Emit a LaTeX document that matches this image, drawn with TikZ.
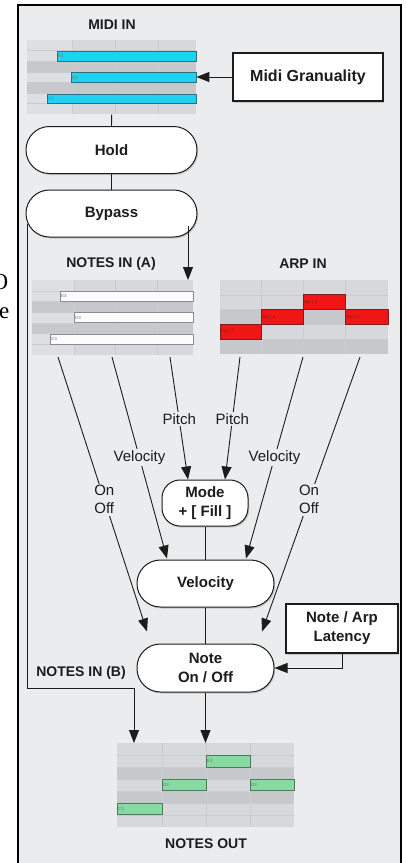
\documentclass[tikz,border=0pt]{standalone}
\usepackage{fontspec}
\setmainfont{Liberation Sans}
\newfontfamily\serifcut{Liberation Serif}
\usetikzlibrary{arrows.meta,shadows,calc}

\definecolor{panelbg}{HTML}{EBECEE}
\definecolor{rowlight}{HTML}{D6D8DC}
\definecolor{rowfirst}{HTML}{DEDFE2}
\definecolor{rowdark}{HTML}{C6C8CC}
\definecolor{gridline}{HTML}{C9CBCF}
\definecolor{midinote}{HTML}{1FD2F2}
\definecolor{midiedge}{HTML}{2F6F80}
\definecolor{notewhite}{HTML}{FCFCFC}
\definecolor{noteedge}{HTML}{8C8C8C}
\definecolor{arpred}{HTML}{F01616}
\definecolor{arpedge}{HTML}{7A1F1F}
\definecolor{outgreen}{HTML}{88DAA3}
\definecolor{outedge}{HTML}{4D7A5C}
\definecolor{ink}{HTML}{1C1C1C}

% grid of a piano roll:
% #1 x0, #2 x1, #3 y0, #4 row height, #5 rows, #6 dark rows, #7 inner column lines, #8 end of first column
\newcommand\rollgrid[8]{%
  \fill[rowlight] (#1,#3) rectangle (#2,{#3+#5*#4});
  \fill[rowfirst] (#1,#3) rectangle (#8,{#3+#5*#4});
  \foreach \r in {#6} \fill[rowdark] (#1,{#3+\r*#4}) rectangle (#2,{#3+(\r+1)*#4});
  \foreach \c in {#7} \draw[gridline, line width=0.6pt] (\c,#3) -- (\c,{#3+#5*#4});
  \pgfmathtruncatemacro\rolllast{#5-1}
  \foreach \r in {1,...,\rolllast} \draw[gridline, line width=0.3pt] (#1,{#3+\r*#4}) -- (#2,{#3+\r*#4});
}
% one note bar: #1 style, #2 x0, #3 x1, #4 y0, #5 y1, #6 name, #7 tag
\newcommand\rollnote[7]{%
  \filldraw[#1] (#2,#4) rectangle (#3,#5);
  \node[notetag] (#6) at ({#2+1},{(#4+#5)/2}) {#7};
}

\begin{document}
\begin{tikzpicture}[x=1pt, y=-1pt,
  head/.style={font=\bfseries\fontsize{14}{16}\selectfont, text=ink, inner sep=0pt},
  proc/.style={draw=ink, line width=1pt, fill=white, align=center, inner sep=0pt,
    font=\bfseries\fontsize{15}{19}\selectfont, text=ink,
    drop shadow={shadow xshift=1.2pt, shadow yshift=-1.5pt, opacity=0.35}},
  pill/.style={proc, rounded corners=23.4pt},
  setbox/.style={proc, line width=1.1pt},
  conn/.style={draw=ink, line width=0.9pt},
  arr/.style={conn, -{Triangle[length=13pt, width=10pt]}},
  elab/.style={fill=panelbg, inner sep=1.5pt, align=center, text=ink,
    font=\fontsize{15}{18}\selectfont},
  notetag/.style={anchor=west, inner sep=0pt, font=\fontsize{4.5}{5}\selectfont, text=black!55},
  midibar/.style={fill=midinote, draw=midiedge, line width=0.7pt},
  whitebar/.style={fill=notewhite, draw=noteedge, line width=0.7pt},
  arpbar/.style={fill=arpred, draw=arpedge, line width=0.7pt},
  outbar/.style={fill=outgreen, draw=outedge, line width=0.7pt},
  rollarea/.style={inner sep=0pt, anchor=north west}
]
\useasboundingbox (0,0) rectangle (406,863);
\clip (0,0) rectangle (406,863);
\fill[white] (0,0) rectangle (406,863);

% text running in from the left margin
\node[anchor=base east, inner sep=0pt, font=\serifcut\fontsize{23}{23}\selectfont] (cutA) at (8.5,289) {O};
\node[anchor=base east, inner sep=0pt, font=\serifcut\fontsize{23}{23}\selectfont] (cutB) at (9.5,318) {e};

% panel
\draw[line width=2.4pt, fill=panelbg] (18,5) rectangle (401,875);

% ---------- MIDI IN ----------
\node[head] (tMidi) at (112,25) {MIDI IN};
\node[rollarea, minimum width=169pt, minimum height=74.2pt] (midiroll) at (27,40) {};
\rollgrid{27}{196}{40}{10.6}{7}{2,4}{72,115,158}{72}
\rollnote{midibar}{57}{196}{51.6}{61.2}{mE}{E3}
\rollnote{midibar}{71}{196}{72.8}{82.4}{mD}{D3}
\rollnote{midibar}{47}{196}{94}{103.6}{mC}{C3}

\node[setbox, minimum width=150pt, minimum height=48pt, font=\bfseries\fontsize{16}{19}\selectfont] (gran) at (308,77) {Midi Granuality};
\draw[arr] (gran.west) -- (gran.west -| midiroll.east);

% ---------- Hold / Bypass ----------
\node[pill, minimum width=171pt, minimum height=47pt] (hold) at (111.5,150) {Hold};
\node[pill, minimum width=171pt, minimum height=47pt] (bypass) at (111.5,213.5) {Bypass};
\draw[conn] (midiroll.south) -- (hold.north);
\draw[conn] (hold.south) -- (bypass.north);

\coordinate (bpL) at (27,224);
\coordinate (bpR) at (188,226);

% ---------- NOTES IN (A) ----------
\node[head] (tNotesA) at (111,264) {NOTES IN (A)};
\node[rollarea, minimum width=161pt, minimum height=75pt] (notesA) at (32,280) {};
\rollgrid{32}{193}{280}{10.7}{7}{2,4}{74,115,157}{74}
\rollnote{whitebar}{60}{193}{291.5}{301.2}{aE}{E3}
\rollnote{whitebar}{74}{193}{312.8}{322.5}{aD}{D3}
\rollnote{whitebar}{50}{193}{334.2}{343.9}{aC}{C3}
\draw[arr] (bpR) -- (bpR |- notesA.north);

% ---------- ARP IN ----------
\node[head] (tArp) at (303,264) {ARP IN};
\node[rollarea, minimum width=168pt, minimum height=74pt] (arproll) at (220,280) {};
\rollgrid{220}{388}{280}{14.8}{5}{2,4}{261,303,345}{220}
\rollnote{arpbar}{303}{345}{294.8}{309.6}{r3}{\textcolor{arpedge}{Arp | 3}}
\rollnote{arpbar}{261}{303}{309.6}{324.4}{r2}{\textcolor{arpedge}{Arp | 2}}
\rollnote{arpbar}{345}{388}{309.6}{324.4}{r4}{\textcolor{arpedge}{Arp | 2}}
\rollnote{arpbar}{220}{261}{324.4}{339.2}{r1}{\textcolor{arpedge}{Arp | 1}}

% ---------- processing chain ----------
\node[pill, rounded corners=18pt, minimum width=86pt, minimum height=46pt] (mode) at (205,503) {Mode\\+ [ Fill ]};
\node[pill, minimum width=137pt, minimum height=47pt] (vel) at (205.5,583.5) {Velocity};
\node[pill, minimum width=137pt, minimum height=48pt] (note) at (205.5,668) {Note\\On / Off};
\node[setbox, minimum width=112pt, minimum height=49pt] (lat) at (342,628.5) {Note / Arp\\Latency};

\coordinate (nA1) at (58,357);
\coordinate (nA2) at (112,357);
\coordinate (nA3) at (170,357);
\coordinate (aP1) at (240,357);
\coordinate (aP2) at (303,357);
\coordinate (aP3) at (360,357);
\coordinate (mIn1) at ($(mode.north)+(-17,0)$);
\coordinate (mIn2) at ($(mode.north)+(20,0)$);
\coordinate (vIn1) at ($(vel.north)+(-38.5,-1)$);
\coordinate (vIn2) at ($(vel.north)+(40.5,-1)$);
\coordinate (oIn1) at ($(note.north)+(-58.5,-12)$);
\coordinate (oIn2) at ($(note.north)+(56.5,-12)$);

\draw[arr] (nA3) -- node[elab, pos=0.51] (lPitchA) {Pitch} (mIn1);
\draw[arr] (aP1) -- node[elab, pos=0.51] (lPitchB) {Pitch} (mIn2);
\draw[arr] (nA2) -- node[elab, pos=0.5] (lVelA) {Velocity} (vIn1);
\draw[arr] (aP2) -- node[elab, pos=0.5] (lVelB) {Velocity} (vIn2);
\draw[arr] (nA1) -- node[elab, pos=0.52] (lOnA) {On\\Off} (oIn1);
\draw[arr] (aP3) -- node[elab, pos=0.52] (lOnB) {On\\Off} (oIn2);

\draw[conn] (mode.south) -- (mode.south |- vel.north);
\draw[conn] (vel.south) -- (vel.south |- note.north);
\draw[arr] (lat.south) |- (note.east);

% ---------- NOTES IN (B) / NOTES OUT ----------
\node[head] (tNotesB) at (81,673) {NOTES IN (B)};
\node[head] (tOut) at (206,844) {NOTES OUT};
\node[rollarea, minimum width=177pt, minimum height=84pt] (outroll) at (117,743) {};
\rollgrid{117}{294}{743}{12}{7}{2,4}{162,206,250}{117}
\rollnote{outbar}{206}{250}{755.5}{767}{oE}{E3}
\rollnote{outbar}{162}{206}{779}{790.5}{oD}{D3}
\rollnote{outbar}{250}{294}{779}{790.5}{oF}{D3}
\rollnote{outbar}{117}{162}{803}{814.5}{oC}{C3}

\coordinate (bendB) at (134,688);
\draw[arr] (bpL) |- (bendB) -- (bendB |- outroll.north);
\draw[arr] (note.south) -- (note.south |- outroll.north);
\end{tikzpicture}
\end{document}
